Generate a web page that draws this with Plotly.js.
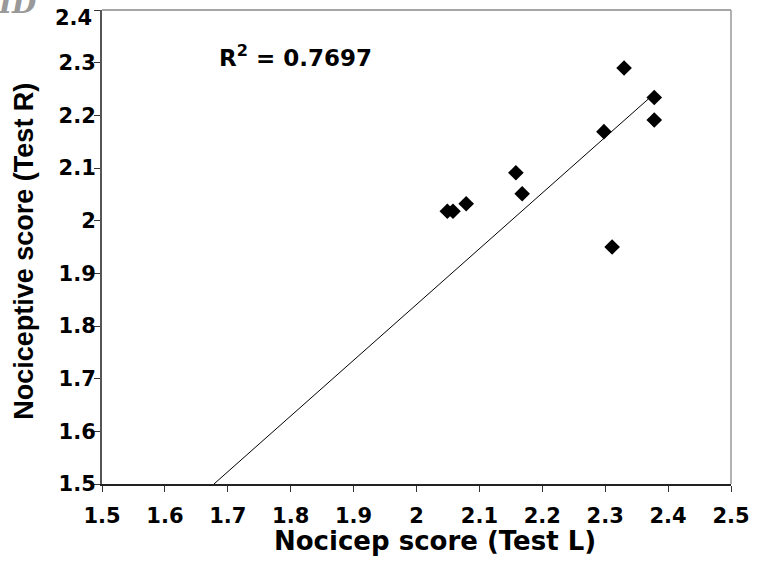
<!DOCTYPE html>
<html>
<head>
<meta charset="utf-8">
<script src="https://cdn.plot.ly/plotly-3.0.1.min.js"></script>
<style>html,body{margin:0;padding:0;background:#fff;}#chart{width:760px;height:565px;}</style>
</head>
<body>
<div id="chart"></div>
<script>
const scoreL = [2.049, 2.058, 2.079, 2.158, 2.168, 2.298, 2.311, 2.330, 2.378, 2.378];
const scoreR = [2.018, 2.018, 2.032, 2.091, 2.051, 2.169, 1.950, 2.290, 2.234, 2.191];
const trendX = [1.678, 2.378];
const trendY = [1.5, 2.241];
const xTicks = [1.5, 1.6, 1.7, 1.8, 1.9, 2, 2.1, 2.2, 2.3, 2.4, 2.5];
const xTickText = ['1.5', '1.6', '1.7', '1.8', '1.9', '2', '2.1', '2.2', '2.3', '2.4', '2.5'];
const yTicks = [1.5, 1.6, 1.7, 1.8, 1.9, 2, 2.1, 2.2, 2.3, 2.4];
const yTickText = ['1.5', '1.6', '1.7', '1.8', '1.9', '2', '2.1', '2.2', '2.3', '2.4'];
const xTitle = 'Nocicep score (Test L)';
const yTitle = 'Nociceptive score (Test R)';
const r2Label = "R<sup>2</sup> = 0.7697";
const panelLabel = "ID";

const wideFont = "DejaVu Sans, Verdana, sans-serif";
const arialFont = "Liberation Sans, Arial, sans-serif";
const tickFont = {family: wideFont, size: 21, color: '#000', weight: 'bold'};

// the top y label sits just below its tick (at the chart's top edge), so draw it as an annotation
const lastY = yTicks.length - 1;
const yTickShown = yTickText.map((t, i) => (i === lastY ? '' : t));

const traces = [
  {x: trendX, y: trendY, mode: 'lines', type: 'scatter', line: {color: '#000', width: 1}, hoverinfo: 'skip'},
  {x: scoreL, y: scoreR, mode: 'markers', type: 'scatter', marker: {symbol: 'diamond', size: 12, color: '#000'}}
];

const axisCommon = {
  showgrid: false, zeroline: false, ticks: 'outside', ticklen: 6, tickwidth: 1, tickcolor: '#333',
  showline: true, linewidth: 2, tickmode: 'array', ticklabeloverflow: 'allow',
  tickfont: tickFont
};

const layout = {
  width: 760, height: 565,
  margin: {l: 102, r: 29, t: 10, b: 81},
  paper_bgcolor: '#fff', plot_bgcolor: '#fff',
  showlegend: false,
  xaxis: Object.assign({}, axisCommon, {
    range: [1.5, 2.5], tickvals: xTicks, ticktext: xTickText, linecolor: '#222', ticklabelstandoff: 6
  }),
  yaxis: Object.assign({}, axisCommon, {
    range: [1.5, 2.4], tickvals: yTicks, ticktext: yTickShown, linecolor: '#555', ticklabelstandoff: -6
  }),
  shapes: [
    {type: 'line', xref: 'paper', yref: 'paper', x0: 0, x1: 1, y0: 1, y1: 1, line: {color: '#888', width: 1.5}},
    {type: 'line', xref: 'paper', yref: 'paper', x0: 1, x1: 1, y0: 0, y1: 1, line: {color: '#999', width: 1.5}}
  ],
  annotations: [
    {text: yTickText[lastY], xref: 'paper', yref: 'y', x: 0, xshift: -8, y: yTicks[lastY], yshift: -8, xanchor: 'right', yanchor: 'middle', showarrow: false,
     font: tickFont},
    {text: xTitle, xref: 'paper', yref: 'paper', x: 0.53, y: 0, yshift: -57, xanchor: 'center', yanchor: 'middle', showarrow: false,
     font: {family: wideFont, size: 26, color: '#000', weight: 'bold'}},
    {text: yTitle, xref: 'paper', yref: 'paper', x: 0, xshift: -78, y: 0.49, textangle: -90, xanchor: 'center', yanchor: 'middle', showarrow: false,
     font: {family: arialFont, size: 27, color: '#000', weight: 'bold'}},
    {text: r2Label, xref: 'x', yref: 'y', x: 1.683, y: 2.3136, xanchor: 'left', yanchor: 'middle', showarrow: false,
     font: {family: wideFont, size: 23, color: '#000', weight: 'bold'}},
    {text: panelLabel, xref: 'paper', yref: 'paper', x: 0, y: 1.0, xanchor: 'left', yanchor: 'bottom', xshift: -106, yshift: -12, showarrow: false,
     font: {family: 'DejaVu Serif, serif', size: 28, color: '#999', weight: 'bold', style: 'italic'}}
  ]
};

Plotly.newPlot('chart', traces, layout, {displayModeBar: false, staticPlot: true});
</script>
</body>
</html>
